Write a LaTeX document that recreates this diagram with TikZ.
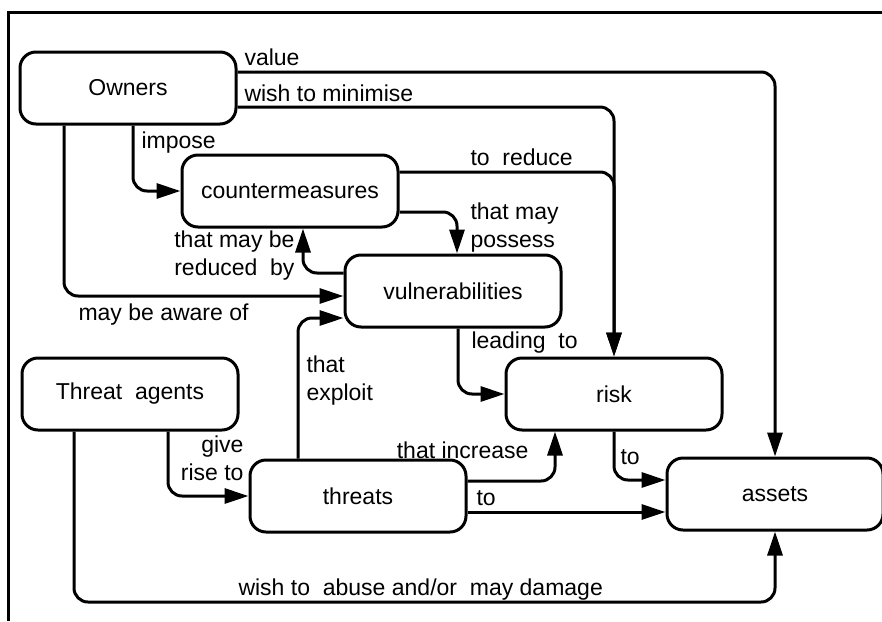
\documentclass[tikz,border=0pt]{standalone}
\usepackage{fontspec}
\setmainfont{Liberation Sans}
\usetikzlibrary{arrows.meta}

\begin{document}
\begin{tikzpicture}[x=1pt,y=-1pt,line width=3pt,
  font=\fontsize{23}{28}\selectfont,
  entity/.style={draw,rounded corners=16pt,minimum width=216pt,minimum height=72pt,inner sep=0pt},
  link/.style={rounded corners=14pt,-{Triangle[length=24pt,width=15pt]}},
  lbl/.style={inner sep=0pt,align=left}]
\useasboundingbox (0,0) rectangle (882,621);
\draw (8,621)--(8,12)--(882,12);

% the entities
\node[entity] (owners) at (128,88) {Owners};
\node[entity] (counter) at (290,191) {countermeasures};
\node[entity] (vuln) at (453,291) {vulnerabilities};
\node[entity] (risk) at (614,394) {risk};
\node[entity] (agents) at (130,394) {Threat~~agents};
\node[entity] (threats) at (358,496) {threats};
\node[entity] (assets) at (775,494) {assets};

% relations
\draw[link] (owners.east |- 0,72) -| (assets.north);
\draw[link] (owners.east |- 0,107) -| (risk.north);
\draw[link] (owners.south -| 133,0) |- (counter.west);
\draw[link] (counter.east |- 0,172) -| (risk.north);
\draw[link] (counter.east |- 0,212) -| (vuln.north -| 457,0);
\draw[link] (vuln.west |- 0,273) -| (counter.south -| 303,0);
\draw[link] (owners.south -| 64,0) |- (vuln.west |- 0,296);
\draw[link] (vuln.south -| 458,0) |- (risk.west);
\draw[link] (threats.north -| 298,0) |- (vuln.west |- 0,318);
\draw[link] (agents.south -| 168,0) |- (threats.west);
\draw[link] (threats.east |- 0,481) -| (risk.south -| 555,0);
\draw[link] (threats.east |- 0,512) -- (assets.west |- 0,512);
\draw[link] (risk.south) |- (assets.west |- 0,480);
\draw[link] (agents.south -| 74,0) |- (assets.south |- 0,602) -- (assets.south);

% labels
\node[lbl,anchor=west] (lvalue) at (243,57) {value};
\node[lbl,anchor=west] (lminimise) at (243,93) {wish to minimise};
\node[lbl,anchor=west] (limpose) at (140,143) {impose};
\node[lbl,anchor=west] (lreduce) at (469,157) {to~~reduce};
\node[lbl,anchor=west] (lpossess) at (469,228) {that may\\possess};
\node[lbl,anchor=east,align=right] (lreduced) at (296,256) {that may be\\reduced~~by};
\node[lbl,anchor=west] (laware) at (77,315) {may be aware of};
\node[lbl,anchor=west] (lleading) at (470,343) {leading~~to};
\node[lbl,anchor=west] (lexploit) at (305,381) {that\\exploit};
\node[lbl,anchor=east,align=right] (lgive) at (245,458) {give\\rise to};
\node[lbl,anchor=east] (lincrease) at (530,450) {that increase};
\node[lbl,anchor=west] (lto) at (475,498) {to};
\node[lbl,anchor=west] (ltorisk) at (619,457) {to};
\node[lbl,anchor=west] (labuse) at (237,590) {wish to~~abuse and/or~~may damage};
\end{tikzpicture}
\end{document}
